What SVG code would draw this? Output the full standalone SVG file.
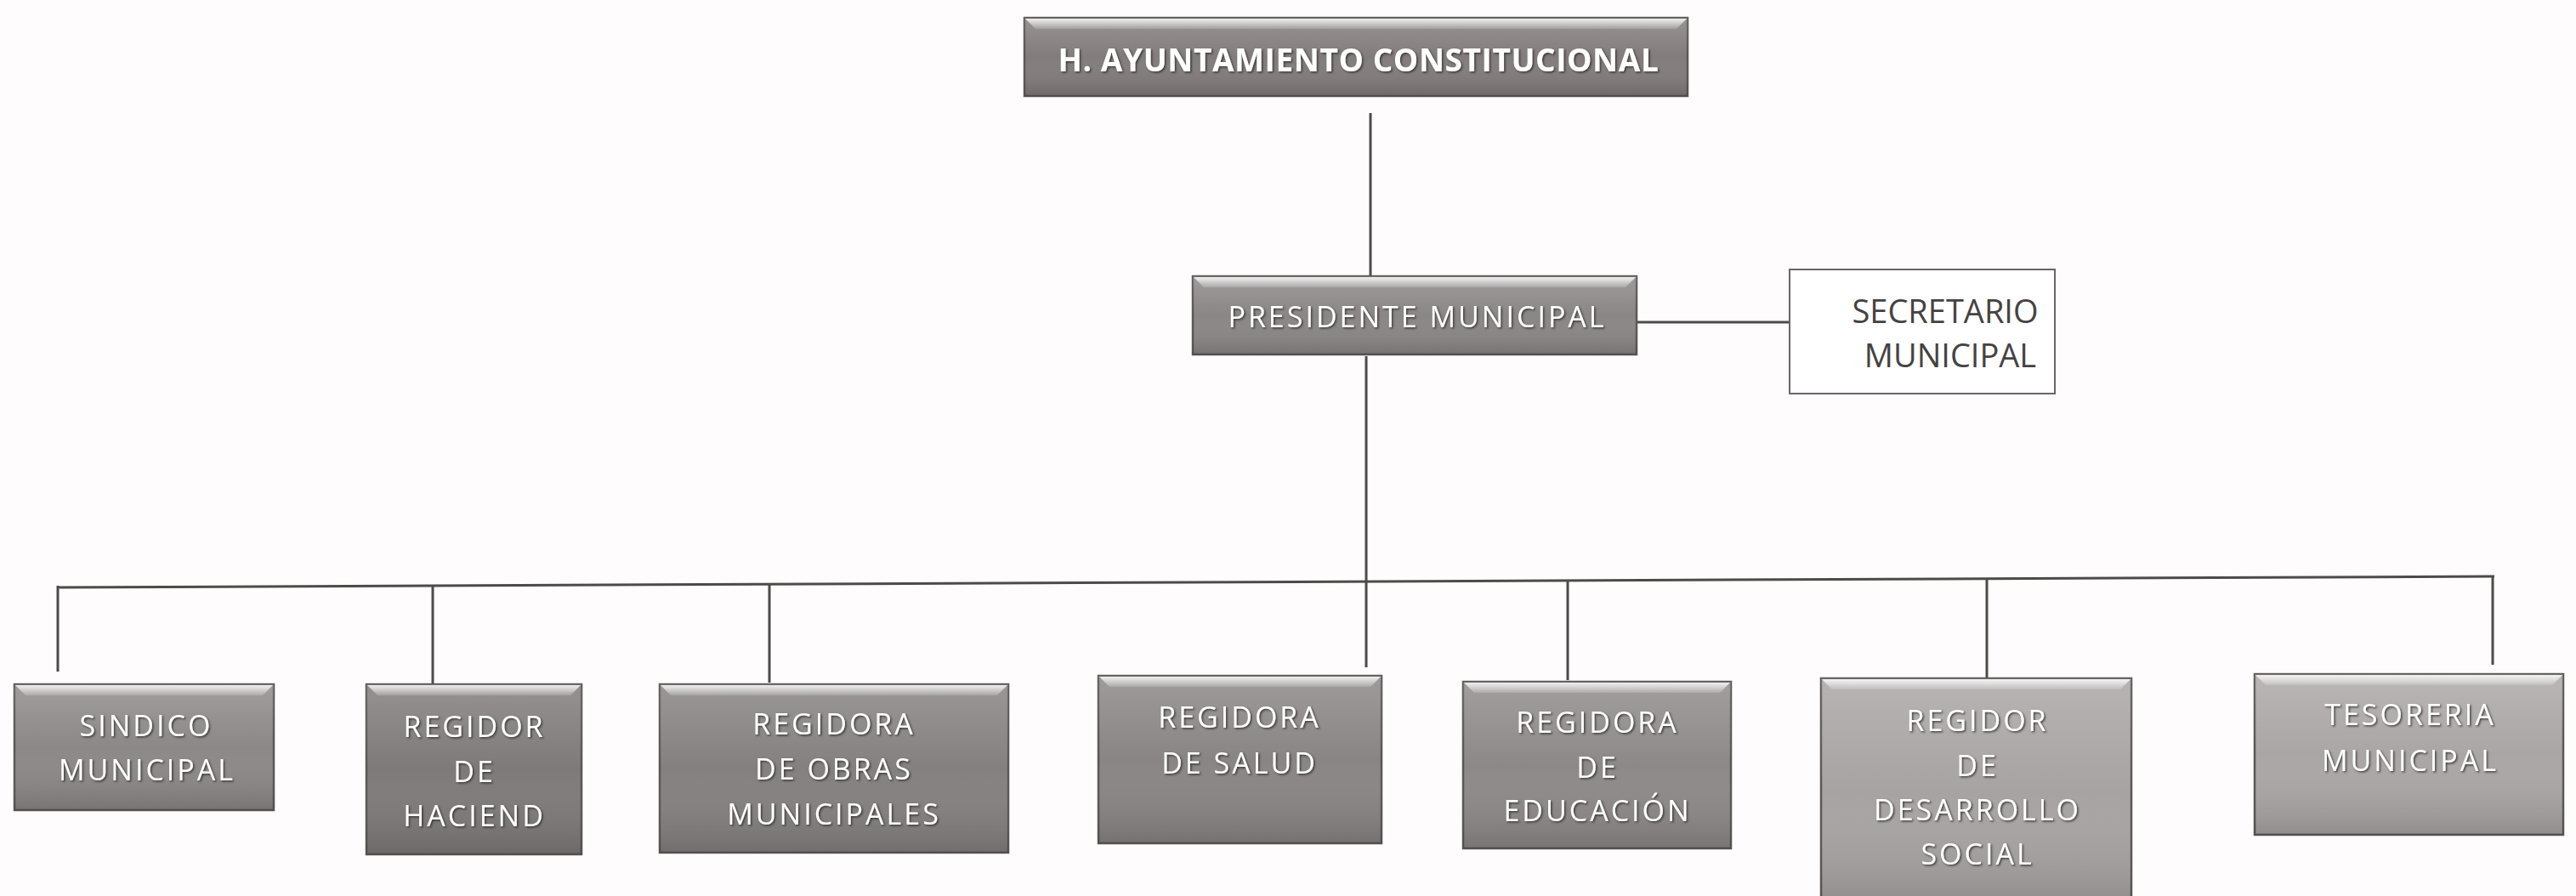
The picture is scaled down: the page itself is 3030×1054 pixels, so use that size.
<svg xmlns="http://www.w3.org/2000/svg" width="3030" height="1054" viewBox="0 0 3030 1054">
<style>
.box{stroke:#5b5656;stroke-width:2.5}
.shade{fill:url(#shade)}
.bevel{fill:url(#bev)}
.lbl{font-family:"Open Sans","Liberation Sans",sans-serif;font-size:34px;letter-spacing:3px;fill:#ffffff;text-anchor:middle;filter:url(#emb)}
.title{font-family:"Open Sans","Liberation Sans",sans-serif;font-size:37px;letter-spacing:0.6px;font-weight:bold;fill:#ffffff;text-anchor:middle;filter:url(#emb)}
.sec{font-family:"Open Sans","Liberation Sans",sans-serif;font-size:38px;fill:#454242;text-anchor:middle}
.conn line{stroke:#4e4a4a;stroke-width:3}
</style>
<defs>
<linearGradient id="shade" x1="0" y1="0" x2="0" y2="1">
<stop offset="0" stop-color="#ffffff" stop-opacity="0.18"/>
<stop offset="0.5" stop-color="#ffffff" stop-opacity="0"/>
<stop offset="1" stop-color="#000000" stop-opacity="0.15"/>
</linearGradient>
<linearGradient id="bev" x1="0" y1="0" x2="0" y2="1">
<stop offset="0" stop-color="#ffffff" stop-opacity="0.85"/>
<stop offset="1" stop-color="#ffffff" stop-opacity="0.15"/>
</linearGradient>
<filter id="emb" x="-10%" y="-30%" width="120%" height="160%">
<feDropShadow dx="1.5" dy="1.5" stdDeviation="1.2" flood-color="#2e2a2a" flood-opacity="0.85"/>
</filter>
</defs>
<rect width="3030" height="1054" fill="#fefcfc"/>

<g id="connectors" class="conn">
<line x1="1612" y1="133" x2="1612" y2="325"/>
<line x1="1925" y1="379" x2="2105" y2="379"/>
<line x1="1607" y1="419" x2="1607" y2="785"/>
<line x1="68" y1="691" x2="2934" y2="678"/>
<line x1="68" y1="689" x2="68" y2="790"/>
<line x1="509" y1="689" x2="509" y2="805"/>
<line x1="905" y1="687" x2="905" y2="803"/>
<line x1="1844" y1="684" x2="1844" y2="800"/>
<line x1="2337" y1="681" x2="2337" y2="798"/>
<line x1="2932" y1="677" x2="2932" y2="782"/>
</g>

<g id="n-ayuntamiento">
<rect class="box" x="1205" y="21" width="780" height="92" fill="#827c7c"/>
<rect class="shade" x="1205" y="21" width="780" height="92"/>
<polygon class="bevel" points="1206,22 1984,22 1972,34 1218,34"/>
<text class="title" x="1598" y="84">H. AYUNTAMIENTO CONSTITUCIONAL</text>
</g>

<g id="n-presidente">
<rect class="box" x="1403" y="325" width="522" height="92" fill="#8b8686"/>
<rect class="shade" x="1403" y="325" width="522" height="92"/>
<polygon class="bevel" points="1404,326 1924,326 1912,338 1416,338"/>
<text class="lbl" x="1667" y="385">PRESIDENTE MUNICIPAL</text>
</g>

<g id="n-secretario">
<rect x="2105" y="317" width="312" height="146" fill="#ffffff" stroke="#6a6666" stroke-width="2"/>
<text class="sec" x="2288" y="380">SECRETARIO</text>
<text class="sec" x="2294" y="432">MUNICIPAL</text>
</g>

<g id="n-sindico">
<rect class="box" x="17" y="805" width="305" height="148" fill="#8d8888"/>
<rect class="shade" x="17" y="805" width="305" height="148"/>
<polygon class="bevel" points="18,806 321,806 309,818 30,818"/>
<text class="lbl" x="172" y="866">SINDICO</text>
<text class="lbl" x="173" y="918">MUNICIPAL</text>
</g>

<g id="n-hacienda">
<rect class="box" x="431" y="805" width="253" height="200" fill="#7f7a7a"/>
<rect class="shade" x="431" y="805" width="253" height="200"/>
<polygon class="bevel" points="432,806 683,806 671,818 444,818"/>
<text class="lbl" x="558" y="867">REGIDOR</text>
<text class="lbl" x="558" y="920">DE</text>
<text class="lbl" x="558" y="972">HACIEND</text>
</g>

<g id="n-obras">
<rect class="box" x="776" y="805" width="410" height="198" fill="#858080"/>
<rect class="shade" x="776" y="805" width="410" height="198"/>
<polygon class="bevel" points="777,806 1185,806 1173,818 789,818"/>
<text class="lbl" x="981" y="864">REGIDORA</text>
<text class="lbl" x="981" y="917">DE OBRAS</text>
<text class="lbl" x="981" y="970">MUNICIPALES</text>
</g>

<g id="n-salud">
<rect class="box" x="1292" y="795" width="333" height="197" fill="#8a8585"/>
<rect class="shade" x="1292" y="795" width="333" height="197"/>
<polygon class="bevel" points="1293,796 1624,796 1612,808 1305,808"/>
<text class="lbl" x="1458" y="856">REGIDORA</text>
<text class="lbl" x="1458" y="910">DE SALUD</text>
</g>

<g id="n-educacion">
<rect class="box" x="1721" y="802" width="315" height="196" fill="#8e8989"/>
<rect class="shade" x="1721" y="802" width="315" height="196"/>
<polygon class="bevel" points="1722,803 2035,803 2023,815 1734,815"/>
<text class="lbl" x="1879" y="862">REGIDORA</text>
<text class="lbl" x="1879" y="915">DE</text>
<text class="lbl" x="1879" y="966">EDUCACIÓN</text>
</g>

<g id="n-desarrollo">
<rect class="box" x="2142" y="798" width="365" height="270" fill="#a8a3a3"/>
<rect class="shade" x="2142" y="798" width="365" height="270"/>
<polygon class="bevel" points="2143,799 2506,799 2494,811 2155,811"/>
<text class="lbl" x="2326" y="860">REGIDOR</text>
<text class="lbl" x="2326" y="913">DE</text>
<text class="lbl" x="2326" y="965">DESARROLLO</text>
<text class="lbl" x="2326" y="1017">SOCIAL</text>
</g>

<g id="n-tesoreria">
<rect class="box" x="2652" y="793" width="363" height="189" fill="#aba6a6"/>
<rect class="shade" x="2652" y="793" width="363" height="189"/>
<polygon class="bevel" points="2653,794 3014,794 3002,806 2665,806"/>
<text class="lbl" x="2835" y="853">TESORERIA</text>
<text class="lbl" x="2835" y="907">MUNICIPAL</text>
</g>
</svg>
